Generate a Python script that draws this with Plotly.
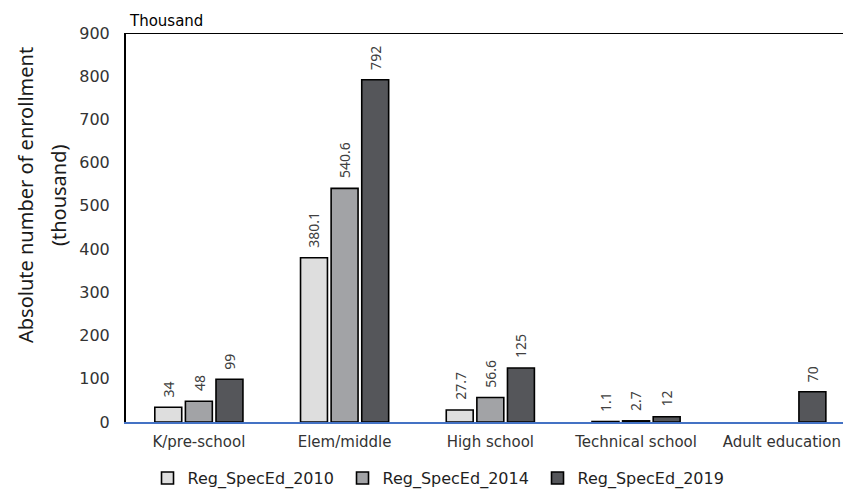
import plotly.graph_objects as go

categories = ["K/pre-school", "Elem/middle", "High school", "Technical school", "Adult education"]
enroll_2010 = [34, 380.1, 27.7, 1.1, None]
enroll_2014 = [48, 540.6, 56.6, 2.7, None]
enroll_2019 = [99, 792, 125, 12, 70]
y_ticks = [0, 100, 200, 300, 400, 500, 600, 700, 800, 900]

series = [
    ("Reg_SpecEd_2010", enroll_2010, "#DEDEDE"),
    ("Reg_SpecEd_2014", enroll_2014, "#A2A3A6"),
    ("Reg_SpecEd_2019", enroll_2019, "#55565A"),
]

WIDE = "DejaVu Sans"
TALL = "Noto Sans"
BARGAP = 0.37

fig = go.Figure()
for name, vals, color in series:
    fig.add_trace(go.Bar(
        name=name,
        x=categories,
        y=vals,
        marker=dict(color=color, line=dict(color="#000000", width=1.6)),
    ))

# value labels, rotated, sitting just above each bar
n = len(series)
slot = (1 - BARGAP) / n
for s_idx, (name, vals, color) in enumerate(series):
    offset = (s_idx - (n - 1) / 2) * slot
    for c_idx, v in enumerate(vals):
        if v is None:
            continue
        fig.add_annotation(
            x=c_idx + offset, y=v, xref="x", yref="y",
            text=f"{v:g}", textangle=-90, showarrow=False,
            xanchor="center", yanchor="bottom", yshift=8,
            font=dict(family=TALL, size=14, color="#404040"),
        )

# frame line along the top of the plot
fig.add_shape(type="line", xref="paper", yref="y", x0=0, x1=1, y0=900, y1=900,
              line=dict(color="#000000", width=2))

fig.add_annotation(text="Thousand", xref="paper", yref="paper", x=0.002, y=1.0,
                   xanchor="left", yanchor="bottom", yshift=1, showarrow=False,
                   font=dict(family=WIDE, size=15, color="#000000"))

# two-line axis title
fig.add_annotation(text="Absolute number of enrollment", xref="paper", yref="paper",
                   x=(25 - 126) / 717, y=(422 - 195) / 389, xanchor="center", yanchor="middle",
                   textangle=-90, showarrow=False,
                   font=dict(family=TALL, size=20, color="#1A1A1A"))
fig.add_annotation(text="(thousand)", xref="paper", yref="paper",
                   x=(58 - 126) / 717, y=(422 - 195) / 389, xanchor="center", yanchor="middle",
                   textangle=-90, showarrow=False,
                   font=dict(family=TALL, size=20, color="#1A1A1A"))

fig.update_layout(
    width=843, height=491,
    margin=dict(l=126, r=0, t=33, b=69, autoexpand=False),
    paper_bgcolor="white", plot_bgcolor="white",
    barmode="group", bargap=BARGAP, bargroupgap=0.12,
    showlegend=True,
    legend=dict(orientation="h", x=0.03, y=-0.188, xanchor="left", yanchor="bottom",
                font=dict(family=WIDE, size=16, color="#1F1F1F"),
                itemwidth=30, entrywidth=150, traceorder="normal",
                bgcolor="rgba(0,0,0,0)"),
    xaxis=dict(range=[-0.5, 4.42], showline=True, linecolor="#4472C4", linewidth=2,
               ticks="", ticklabelstandoff=5,
               tickfont=dict(family=WIDE, size=15, color="#333333"),
               showgrid=False),
    yaxis=dict(range=[0, 900], tickvals=y_ticks, showline=True, linecolor="#000000",
               linewidth=2, ticks="", showgrid=False, zeroline=False,
               ticklabelstandoff=11,
               tickfont=dict(family=WIDE, size=16, color="#333333")),
)

fig.write_html("out.html")
